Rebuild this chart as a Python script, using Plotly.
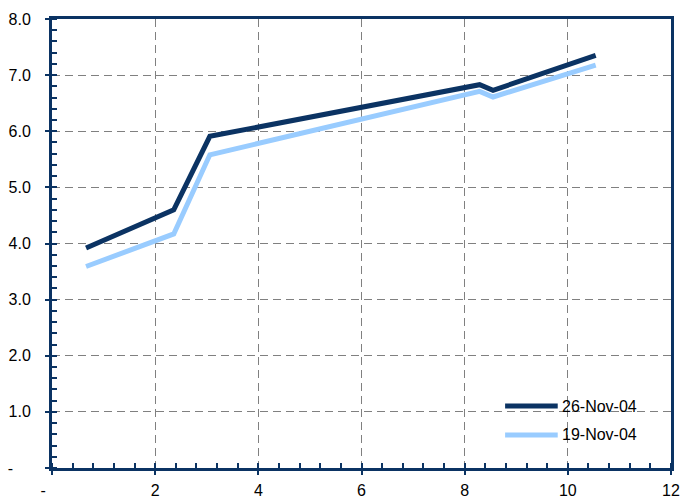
import plotly.graph_objects as go

# Yield curve points (term in years, yield in %)
terms_26 = [0.66, 2.36, 3.06, 8.29, 8.55, 10.54]
yields_26 = [3.92, 4.60, 5.91, 6.83, 6.73, 7.35]

terms_19 = [0.66, 2.36, 3.06, 8.29, 8.55, 10.54]
yields_19 = [3.59, 4.17, 5.58, 6.71, 6.61, 7.18]

series_names = ["26-Nov-04", "19-Nov-04"]

x_tickvals = [0, 2, 4, 6, 8, 10, 12]
x_ticktext = ["-\u00a0\u00a0\u00a0\u00a0", "2", "4", "6", "8", "10", "12"]
y_tickvals = [0, 1, 2, 3, 4, 5, 6, 7, 8]
y_ticktext = ["-\u00a0\u00a0\u00a0\u00a0", "1.0", "2.0", "3.0", "4.0", "5.0", "6.0", "7.0", "8.0"]

NAVY = "#0B3363"
LIGHT = "#99CCFF"
GRID = "#808080"
FONT = "Liberation Sans, Arial, sans-serif"
colors = [NAVY, LIGHT]

fig = go.Figure()
fig.add_trace(go.Scatter(x=terms_26, y=yields_26, mode="lines", name=series_names[0],
                         line=dict(color=colors[0], width=5), showlegend=False))
fig.add_trace(go.Scatter(x=terms_19, y=yields_19, mode="lines", name=series_names[1],
                         line=dict(color=colors[1], width=5), showlegend=False))

axis_common = dict(
    showline=True, linecolor=NAVY, linewidth=3, mirror=True,
    showgrid=True, gridcolor=GRID, gridwidth=1, griddash="8px,5px",
    zeroline=False, automargin=False,
    ticks="outside", ticklen=4, tickcolor=NAVY, tickwidth=1.5,
    tickfont=dict(family=FONT, size=16, color="#000000"),
)

fig.update_xaxes(range=[0, 12], tickmode="array", tickvals=x_tickvals, ticktext=x_ticktext,
                 minor=dict(dtick=0.4, ticks="inside", ticklen=5, tickcolor=NAVY, tickwidth=1.5,
                            showgrid=False),
                 ticklabelstandoff=2, **axis_common)
fig.update_yaxes(range=[0, 8], tickmode="array", tickvals=y_tickvals, ticktext=y_ticktext,
                 minor=dict(dtick=0.2, ticks="inside", ticklen=5, tickcolor=NAVY, tickwidth=1.5,
                            showgrid=False),
                 ticklabelstandoff=11, **axis_common)

# Legend box in the lower right of the plot area
shapes = [dict(type="rect", xref="paper", yref="paper", x0=0.726, x1=0.966, y0=0.051, y1=0.163,
               fillcolor="white", line=dict(width=0), layer="between")]
annotations = []
legend_y = [0.138, 0.0735]
for name, col, ly in zip(series_names, colors, legend_y):
    shapes.append(dict(type="line", xref="paper", yref="paper", x0=0.732, x1=0.817, y0=ly, y1=ly,
                       line=dict(color=col, width=5), layer="above"))
    annotations.append(dict(xref="paper", yref="paper", x=0.82, y=ly, text=name, showarrow=False,
                            xanchor="left", yanchor="middle",
                            font=dict(family=FONT, size=16, color="#000000")))

fig.update_layout(
    width=681, height=500,
    margin=dict(l=52, r=10, t=19, b=32),
    paper_bgcolor="white", plot_bgcolor="white",
    font=dict(family=FONT, size=16, color="#000000"),
    shapes=shapes, annotations=annotations,
    showlegend=False,
)

fig.write_html("out.html")
